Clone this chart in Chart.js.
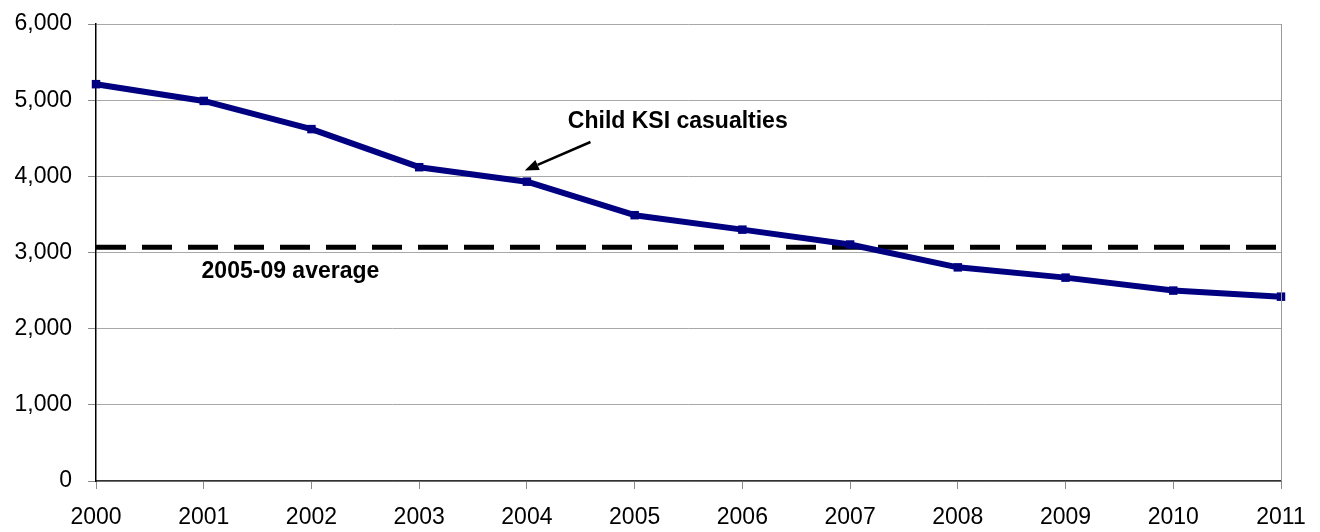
<!DOCTYPE html>
<html>
<head>
<meta charset="utf-8">
<script src="https://cdn.jsdelivr.net/npm/chart.js@4/dist/chart.umd.min.js"></script>
<style>
  html, body { margin: 0; padding: 0; background: #ffffff; }
  #wrap { width: 1320px; height: 532px; position: relative; }
</style>
</head>
<body>
<div id="wrap"><canvas id="chart"></canvas></div>
<script>
// Child killed or seriously injured (KSI) casualties, by year
const years = ['2000', '2001', '2002', '2003', '2004', '2005', '2006', '2007', '2008', '2009', '2010', '2011'];
const childKsi = [5210, 4990, 4620, 4120, 3930, 3490, 3300, 3105, 2805, 2670, 2500, 2420];
// Mean of the 2005-09 figures, drawn as a flat reference line
const average0509 = 3070;
const yTicks = [0, 1000, 2000, 3000, 4000, 5000, 6000];
const seriesLabel = 'Child KSI casualties';
const averageLabel = '2005-09 average';

const averageLine = years.map(() => average0509);

const FONT = '"Liberation Sans", Arial, sans-serif';

// Text labels, arrow and right-hand frame line
const annotations = {
  id: 'annotations',
  afterDatasetsDraw(chart) {
    const { ctx, chartArea, scales: { x, y } } = chart;
    ctx.save();

    // right edge of the plot frame
    ctx.strokeStyle = '#9a9a9a';
    ctx.lineWidth = 1;
    ctx.beginPath();
    ctx.moveTo(Math.round(chartArea.right) + 0.5, chartArea.top);
    ctx.lineTo(Math.round(chartArea.right) + 0.5, chartArea.bottom);
    ctx.stroke();

    ctx.fillStyle = '#000000';
    ctx.font = 'bold 23px ' + FONT;
    ctx.textAlign = 'left';
    ctx.textBaseline = 'alphabetic';
    ctx.fillText(seriesLabel, x.getPixelForValue(4.38), y.getPixelForValue(4634));
    ctx.fillText(averageLabel, x.getPixelForValue(0.98), y.getPixelForValue(2665));

    // arrow pointing at the series line
    const x0 = x.getPixelForValue(4.59), y0 = y.getPixelForValue(4451);
    const x1 = x.getPixelForValue(3.98), y1 = y.getPixelForValue(4076);
    const ang = Math.atan2(y1 - y0, x1 - x0);
    const headLen = 14, headHalf = 5.5;
    const bx = x1 - headLen * Math.cos(ang), by = y1 - headLen * Math.sin(ang);
    ctx.strokeStyle = '#000000';
    ctx.lineWidth = 2.5;
    ctx.beginPath();
    ctx.moveTo(x0, y0);
    ctx.lineTo(bx, by);
    ctx.stroke();
    ctx.beginPath();
    ctx.moveTo(x1, y1);
    ctx.lineTo(bx + headHalf * Math.sin(ang), by - headHalf * Math.cos(ang));
    ctx.lineTo(bx - headHalf * Math.sin(ang), by + headHalf * Math.cos(ang));
    ctx.closePath();
    ctx.fill();

    ctx.restore();
  }
};

new Chart(document.getElementById('chart'), {
  type: 'line',
  data: {
    labels: years,
    datasets: [
      {
        label: seriesLabel,
        data: childKsi,
        borderColor: '#000080',
        backgroundColor: '#000080',
        borderWidth: 6,
        tension: 0,
        pointStyle: 'rect',
        pointRadius: 6,
        pointBorderWidth: 0,
        pointBackgroundColor: '#000080',
        borderJoinStyle: 'round',
        clip: 8,
        order: 0
      },
      {
        label: averageLabel,
        data: averageLine,
        borderColor: '#000000',
        borderWidth: 5,
        borderDash: [30, 16],
        borderCapStyle: 'butt',
        pointRadius: 0,
        tension: 0,
        order: 1
      }
    ]
  },
  options: {
    responsive: true,
    maintainAspectRatio: false,
    animation: false,
    locale: 'en-US',
    layout: { autoPadding: false, padding: { top: 24, right: 39, left: 0, bottom: 0 } },
    plugins: {
      legend: { display: false },
      tooltip: { enabled: false }
    },
    scales: {
      x: {
        offset: false,
        grid: {
          drawOnChartArea: false,
          drawTicks: true,
          tickLength: 8,
          tickColor: '#8a8a8a',
          lineWidth: 1
        },
        border: { display: true, color: '#333333', width: 1.5 },
        ticks: {
          color: '#000000',
          font: { family: FONT, size: 23 },
          padding: 15,
          maxRotation: 0,
          autoSkip: false
        },
        afterFit(scale) {
          scale.height = 51;
          scale.paddingLeft = 0;
          scale.paddingRight = 0;
        }
      },
      y: {
        min: 0,
        max: 6000,
        afterBuildTicks(scale) { scale.ticks = yTicks.map(v => ({ value: v })); },
        grid: {
          color: '#a8a8a8',
          lineWidth: 1,
          tickLength: 8,
          tickColor: '#8a8a8a'
        },
        border: { display: true, color: '#000000', width: 1.5 },
        ticks: {
          color: '#000000',
          font: { family: FONT, size: 23 },
          padding: 16,
          callback: (v) => Number(v).toLocaleString('en-US')
        },
        afterFit(scale) {
          scale.width = 96;
          scale.paddingTop = 0;
          scale.paddingBottom = 0;
        }
      }
    }
  },
  plugins: [annotations]
});
</script>
</body>
</html>
